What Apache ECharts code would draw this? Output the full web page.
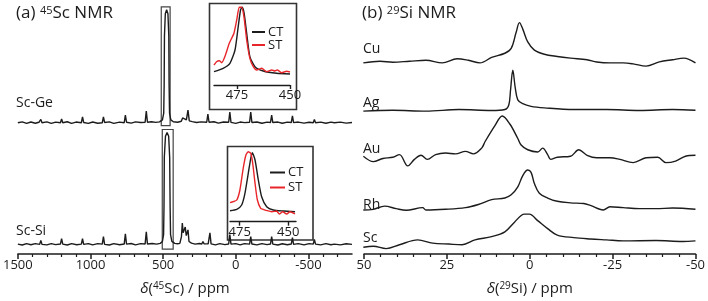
<!DOCTYPE html>
<html lang="en">
<head>
    <meta charset="UTF-8">
    <title>45Sc / 29Si NMR</title>
    <script src="https://cdn.jsdelivr.net/npm/echarts@6/dist/echarts.min.js"></script>
    <style>
        html, body { margin: 0; padding: 0; background: #fff; }
        #main { width: 708px; height: 301px; }
    </style>
</head>
<body>
    <div id="main"></div>
    <script>
        // ---- axis ticks ----
        var scTicks = [1500, 1000, 500, 0, -500];
        var scMinorTicks = [1400, 1300, 1200, 1100, 900, 800, 700, 600, 400, 300, 200, 100,
            -100, -200, -300, -400, -600, -700];
        var insetTicks = [475, 450];

        // ---- 45Sc spectra [ppm, intensity] ----
        var scGe = [[1500, 0], [1470, 0.9], [1440, -0.6], [1410, 0.8], [1380, -0.5], [1355, 0.5], [1350, 0], [1342, 3.5], [1334, 0],
            [1300, 0.9], [1270, -0.7], [1240, 0.6], [1207, 0], [1199, 4], [1191, 0], [1160, 1], [1130, -0.6], [1100, 0.7],
            [1063, 0], [1055, 6], [1047, 0.3], [1015, -0.7], [985, 0.8], [950, -0.5], [919, 0], [911, 6], [903, 0.3],
            [870, 0.9], [840, -0.6], [800, 0.7], [768, 0], [760, 8], [752, 0.5], [720, -0.4], [690, 0.9], [655, 0.2],
            [624, 0.5], [616, 12], [608, 0.5], [580, 1], [550, 0.4], [525, 0.9],
            [505, 3], [496, 10], [493, 40], [491, 90], [485, 113], [476, 117], [467, 113], [461, 90], [459, 40], [456, 10], [447, 3],
            [430, 1], [400, 0.5], [375, 1.5], [366, 5], [356, 3], [340, 3], [329, 13], [320, 2], [300, 1.2], [270, 0.3],
            [240, 0.9], [200, 0.5], [192, 9], [184, 0.5], [150, 1], [120, -0.4], [85, 0.8], [49, 0.5], [41, 11], [33, 0.4],
            [0, -0.6], [-30, 0.7], [-60, 0.1], [-95, 0.5], [-103, 11], [-111, 0.3], [-145, 0.8], [-180, -0.5], [-215, 0.6],
            [-239, 0.3], [-247, 8], [-255, 0.2], [-290, 0.7], [-320, -0.5], [-355, 0.6], [-382, 0.2], [-390, 7], [-398, 0.1],
            [-430, 0.7], [-470, -0.4], [-505, 0.5], [-533, 0], [-541, 3.5], [-549, 0], [-585, 0.6], [-620, -0.5], [-655, 0.6],
            [-679, 0], [-685, 1.5], [-691, 0], [-720, 0.6], [-760, -0.4], [-800, 0.2]];

        var scSi = [[1500, 0.3], [1470, -0.7], [1440, 0.8], [1410, -0.4], [1380, 0.7], [1350, 0], [1342, 4], [1334, 0],
            [1300, -0.6], [1270, 0.8], [1240, -0.3], [1207, 0.3], [1199, 6], [1191, 0.2], [1160, -0.7], [1130, 0.7],
            [1095, -0.4], [1063, 0.2], [1055, 6], [1047, 0], [1015, 0.8], [985, -0.6], [950, 0.7], [919, 0.2], [911, 8],
            [903, 0], [870, -0.7], [840, 0.8], [800, -0.4], [768, 0.3], [760, 11], [752, 0.2], [720, 0.9], [690, -0.5],
            [655, 0.7], [624, 0.4], [616, 13], [608, 0.3], [575, 0.9], [545, 0.2], [520, 1],
            [505, 3], [497, 10], [494, 40], [492, 90], [484, 112], [473, 116], [462, 112], [455, 90], [452, 40], [449, 10], [440, 3],
            [420, 1], [400, 0.6], [385, 1], [374, 8], [368, 22], [362, 12], [355, 15], [348, 18], [341, 9], [335, 12],
            [329, 15], [322, 3], [305, 1.2], [280, 0.2], [250, 0.9], [234, 0.4], [226, 3], [218, 0.5], [190, 0.6], [178, 12],
            [170, 0.5], [140, -0.5], [110, 0.8], [75, -0.3], [49, 0.4], [41, 10], [33, 0.2], [0, 0.7], [-30, -0.6],
            [-60, 0.7], [-95, 0.2], [-103, 8], [-111, 0.3], [-145, -0.6], [-180, 0.8], [-215, -0.3], [-239, 0.3], [-247, 8],
            [-255, 0.2], [-290, -0.7], [-320, 0.6], [-355, -0.4], [-382, 0.3], [-390, 7], [-398, 0], [-430, 0.7],
            [-470, -0.5], [-505, 0.7], [-533, 0.2], [-541, 5], [-549, 0.2], [-585, -0.6], [-620, 0.7], [-655, -0.4],
            [-679, 0.2], [-685, 2], [-691, 0.3], [-720, -0.5], [-760, 0.6], [-800, 0]];

        // boxes drawn round the truncated central transition
        var geBox = [[513, 133], [452, 256]];
        var siBox = [[506, 5], [431, 129]];

        // ---- inset spectra (central transition region) ----
        var geCT = [[485.8, 13.3], [481.5, 16.7], [478.3, 21.7], [475.9, 35], [474.4, 58.3], [473.3, 75], [472.5, 77.7],
            [471.6, 71.7], [470.4, 51.7], [468.9, 28.3], [466.5, 18.3], [462.6, 14], [456.3, 11.7], [450, 11]];
        var geST = [[485.8, 20], [484.6, 23.3], [483.3, 24.3], [482.2, 22.3], [480.7, 28.3], [478.6, 41.7], [477.5, 46.7],
            [476.4, 51.7], [475.1, 65], [473.9, 77.7], [472.8, 77.7], [471.7, 68.3], [470.4, 45], [468.9, 26.7],
            [467.3, 18.3], [465.7, 15], [463.3, 16.7], [461, 13.3], [458.6, 15], [457.1, 14], [456, 15], [453.9, 12.3],
            [451.6, 13.7], [450, 13]];
        var siCT = [[480, 11], [476.5, 12.4], [474, 16.7], [472.3, 28.4], [470.6, 48.4], [469.3, 63.4], [468.5, 69],
            [467.1, 61.7], [465.4, 41.7], [463.7, 25], [461.1, 15], [457.7, 11.7], [452.5, 10.7], [446.5, 10]];
        var siST = [[480, 19], [478.3, 20], [476.5, 21.7], [474.9, 31.7], [473.2, 53.4], [471.8, 66.7], [470.6, 70],
            [469.3, 68.4], [468.3, 58.4], [467.1, 38.4], [465.9, 21.7], [464.2, 13.4], [462.9, 12.4], [460.8, 11],
            [458.5, 10], [456, 10.7], [454.6, 7.7], [452.9, 10], [450.8, 7.7], [449.1, 10], [446.5, 7.7]];

        // ---- 29Si spectra [ppm, intensity] ----
        var siNames = ['Cu', 'Ag', 'Au', 'Rh', 'Sc'];
        var siCu = [[50.2, -1], [45.2, 0.7], [41.3, -0.3], [36.3, 0.7], [31.3, 1.7], [26.4, -1], [21.9, 3.3], [18.5, 1.7],
            [15, -1], [11.5, 4.7], [7.5, 9], [5.6, 14], [4.1, 30.7], [3.1, 40.7], [2.1, 34], [0.6, 20.7], [-1.4, 12.3],
            [-4.4, 8], [-8.3, 5.7], [-12.3, 4], [-17.3, 2.3], [-20.2, 0], [-24.2, -1], [-28.2, -1], [-31.2, -2],
            [-35.1, -4.3], [-39.1, 0], [-43.1, 2.3], [-46.5, 4], [-50, -1]];
        var siAg = [[50.2, -1.7], [41.3, -0.7], [31.3, -1.7], [21.4, 0], [11.5, -1], [7.5, 0], [6.3, 5], [5.8, 20],
            [5.1, 40.7], [4.4, 23.3], [3.6, 10], [2.1, 6], [-0.4, 3.3], [-4.4, 1.7], [-13.3, 0], [-23.2, 0], [-33.1, -1],
            [-43.1, 0], [-50, -0.7]];
        var siAu = [[50.2, 0.3], [47.2, -5.3], [44.3, -2], [41.3, -0.7], [39.3, 2], [36.8, -9.7], [34.8, -3], [32.8, 1.3],
            [30.9, -3], [28.4, 2], [25.4, 3.7], [22.4, 2.7], [19.4, 5.3], [17, 2.7], [14.5, 8.7], [13.5, 15.3], [10.5, 32],
            [8.3, 42], [6, 33.7], [3.6, 18.7], [2.6, 12], [0.6, 7], [-2.4, 4.7], [-3.9, 8.7], [-5.4, 2], [-6.3, -3],
            [-8.3, -0.7], [-12.3, 0.3], [-14.8, 7], [-17.3, 1.3], [-20.2, -1.3], [-24.2, -1.3], [-27.2, -3], [-31.2, -6.3],
            [-35.1, -1.3], [-38.6, -0.7], [-41.1, -6.3], [-44, -4.7], [-47, 0.3], [-50, 1.3]];
        var siRh = [[50.2, -0.7], [47.2, 0], [43.8, 3.3], [40.3, 0.7], [37.3, -1], [32.3, 1.7], [31.3, -0.7], [25.4, 0],
            [19.4, 1.7], [15.5, 5], [11.5, 10], [7.5, 11.7], [5.6, 15], [3.6, 23.3], [2.1, 35], [0.6, 40.7], [-0.4, 38.3],
            [-1.4, 26.7], [-2.9, 16.7], [-5.4, 11.7], [-8.3, 8.3], [-12.3, 6.7], [-16.3, 6], [-18.3, 4], [-22.2, -0.7],
            [-24.2, 2.7], [-28.2, 1.7], [-33.1, 0.7], [-38.1, 0.7], [-43.1, 1.3], [-50, 0]];
        var siSc = [[50.2, 0.7], [47.2, 1.7], [43.3, -0.7], [39.3, 3.3], [33.8, 8.3], [29.3, 5], [24.4, 4], [20.4, 3.3],
            [16.5, 8.3], [11.5, 11.7], [7.5, 16.7], [4.6, 26.7], [1.6, 35], [0.1, 35], [-2.4, 28.3], [-5.4, 20],
            [-8.3, 13.3], [-13.3, 10.7], [-18.3, 9.3], [-23.2, 8.3], [-28.2, 7.3], [-38.1, 7.7], [-46.1, 6.7], [-50, 7.3]];

        // vertical stacking of the traces
        var scOffsets = { ge: 136, si: 10 };
        var siOffsets = [199, 149.7, 101, 46.3, 6.3];

        var ink = '#1c1c1c';
        var red = '#e8262a';
        var font = 'Open Sans';

        function shift(arr, dy) {
            return arr.map(function (p) { return [p[0], p[1] + dy]; });
        }

        function traceSeries(name, data, xi, yi, smooth, color) {
            return {
                name: name,
                type: 'line',
                xAxisIndex: xi,
                yAxisIndex: yi,
                data: data,
                symbol: 'none',
                smooth: smooth,
                silent: true,
                animation: false,
                itemStyle: { color: color || ink },
                lineStyle: { color: color || ink, width: 1.4 }
            };
        }

        function boxArea(b) {
            return {
                silent: true,
                itemStyle: { color: 'rgba(0,0,0,0)', borderColor: '#444', borderWidth: 1.2 },
                data: [[{ coord: b[0] }, { coord: b[1] }]]
            };
        }

        function plainNumber(v) { return String(v); }

        var mainAxisName = {
            fontFamily: font, fontSize: 15, color: ink,
            rich: {
                i: { fontFamily: font, fontSize: 15, fontStyle: 'italic', color: ink },
                t: { fontFamily: font, fontSize: 15, color: ink },
                sup: { fontFamily: font, fontSize: 10, color: ink, verticalAlign: 'top' }
            }
        };
        var titleStyle = {
            fontFamily: font, fontSize: 17, fontWeight: 'normal', color: ink,
            rich: {
                t: { fontFamily: font, fontSize: 17, color: ink },
                sup: { fontFamily: font, fontSize: 11, color: ink, verticalAlign: 'top' }
            }
        };
        var insetLegend = {
            data: ['CT', 'ST'], orient: 'vertical', padding: 0, selectedMode: false,
            itemStyle: { opacity: 0 },
            textStyle: { fontFamily: font, fontSize: 13, color: ink, padding: [0, 0, 0, -2] }
        };

        var myChart = echarts.init(document.getElementById('main'), null, { renderer: 'canvas' });

        var geSeries = traceSeries('Sc-Ge', shift(scGe, scOffsets.ge), 0, 0, false);
        geSeries.markArea = boxArea(geBox);
        var siSeries = traceSeries('Sc-Si', shift(scSi, scOffsets.si), 0, 0, false);
        siSeries.markArea = boxArea(siBox);

        var series = [
            geSeries,
            siSeries,
            traceSeries('CT', geCT, 3, 2, 0.2),
            traceSeries('ST', geST, 3, 2, 0.2, red),
            traceSeries('CT', siCT, 4, 3, 0.2),
            traceSeries('ST', siST, 4, 3, 0.2, red)
        ];
        [siCu, siAg, siAu, siRh, siSc].forEach(function (arr, k) {
            series.push(traceSeries(siNames[k], shift(arr, siOffsets[k]), 2, 1, 0.35));
        });

        var option = {
            backgroundColor: '#fff',
            animation: false,
            title: [
                { text: '{t|(a) }{sup|45}{t|Sc NMR}', left: 16, top: 5, padding: 0, textStyle: titleStyle },
                { text: '{t|(b) }{sup|29}{t|Si NMR}', left: 362, top: 5, padding: 0, textStyle: titleStyle }
            ],
            legend: [
                Object.assign({}, insetLegend, { left: 251, top: 25.5, itemWidth: 13, itemHeight: 13, itemGap: 0 }),
                Object.assign({}, insetLegend, { left: 269, top: 166, itemWidth: 15, itemHeight: 14, itemGap: 2 })
            ],
            grid: [
                { left: 14, right: 356, top: 5, bottom: 38 },
                { left: 364, right: 8, top: 5, bottom: 38 },
                { left: 214, width: 76, top: 5, height: 80 },
                { left: 230, width: 66, top: 148.7, height: 73 }
            ],
            xAxis: [
                {
                    gridIndex: 0, type: 'value', min: -800, max: 1500, inverse: true, position: 'bottom',
                    axisLine: { onZero: false, lineStyle: { color: ink, width: 1.5 } },
                    axisTick: { customValues: scTicks, length: 5, lineStyle: { color: ink, width: 1.5 } },
                    axisLabel: { customValues: scTicks, formatter: plainNumber, color: ink, fontFamily: font, fontSize: 13, margin: 5 },
                    splitLine: { show: false },
                    name: '{i|δ}{t|(}{sup|45}{t|Sc) / ppm}', nameLocation: 'middle', nameGap: 27,
                    nameTextStyle: mainAxisName
                },
                {
                    gridIndex: 0, type: 'value', min: -800, max: 1500, inverse: true, position: 'bottom',
                    axisLine: { show: false, onZero: false },
                    axisTick: { customValues: scMinorTicks, length: 3, lineStyle: { color: ink, width: 1.2 } },
                    axisLabel: { show: false },
                    splitLine: { show: false }
                },
                {
                    gridIndex: 1, type: 'value', min: -50, max: 50, interval: 25, inverse: true, position: 'bottom',
                    axisLine: { onZero: false, lineStyle: { color: ink, width: 1.5 } },
                    axisTick: { length: 5, lineStyle: { color: ink, width: 1.5 } },
                    minorTick: { show: true, splitNumber: 5, length: 3, lineStyle: { color: ink, width: 1.2 } },
                    axisLabel: { formatter: plainNumber, color: ink, fontFamily: font, fontSize: 13, margin: 5 },
                    splitLine: { show: false },
                    name: '{i|δ}{t|(}{sup|29}{t|Si) / ppm}', nameLocation: 'middle', nameGap: 27,
                    nameTextStyle: mainAxisName
                },
                {
                    gridIndex: 2, type: 'value', min: 450, max: 485.8, inverse: true, position: 'bottom',
                    axisLine: { onZero: false, lineStyle: { color: ink, width: 1.4 } },
                    axisTick: { customValues: insetTicks, length: 4, lineStyle: { color: ink, width: 1.4 } },
                    axisLabel: { customValues: insetTicks, formatter: plainNumber, color: ink, fontFamily: font, fontSize: 13, margin: 4 },
                    splitLine: { show: false }
                },
                {
                    gridIndex: 3, type: 'value', min: 446, max: 480, inverse: true, position: 'bottom',
                    axisLine: { onZero: false, lineStyle: { color: ink, width: 1.4 } },
                    axisTick: { customValues: insetTicks, length: 4, lineStyle: { color: ink, width: 1.4 } },
                    axisLabel: { customValues: insetTicks, formatter: plainNumber, color: ink, fontFamily: font, fontSize: 13, margin: 4 },
                    splitLine: { show: false }
                }
            ],
            yAxis: [
                { gridIndex: 0, type: 'value', min: 0, max: 258, show: false },
                { gridIndex: 1, type: 'value', min: 0, max: 258, show: false },
                { gridIndex: 2, type: 'value', min: 0, max: 80, show: false },
                { gridIndex: 3, type: 'value', min: 0, max: 73, show: false }
            ],
            graphic: [
                // inset frames
                { type: 'rect', silent: true, shape: { x: 209.5, y: 3.5, width: 87, height: 106 },
                  style: { fill: 'none', stroke: '#333', lineWidth: 1.6 } },
                { type: 'rect', silent: true, shape: { x: 227.5, y: 146.5, width: 85.5, height: 93.5 },
                  style: { fill: 'none', stroke: '#333', lineWidth: 1.6 } },
                // trace labels
                { type: 'text', silent: true, x: 16, y: 103, style: { text: 'Sc-Ge', font: '14px "Open Sans"', fill: ink, textVerticalAlign: 'middle' } },
                { type: 'text', silent: true, x: 16, y: 231, style: { text: 'Sc-Si', font: '14px "Open Sans"', fill: ink, textVerticalAlign: 'middle' } },
                { type: 'text', silent: true, x: 363, y: 49, style: { text: 'Cu', font: '14px "Open Sans"', fill: ink, textVerticalAlign: 'middle' } },
                { type: 'text', silent: true, x: 363, y: 103, style: { text: 'Ag', font: '14px "Open Sans"', fill: ink, textVerticalAlign: 'middle' } },
                { type: 'text', silent: true, x: 363, y: 149, style: { text: 'Au', font: '14px "Open Sans"', fill: ink, textVerticalAlign: 'middle' } },
                { type: 'text', silent: true, x: 363, y: 205, style: { text: 'Rh', font: '14px "Open Sans"', fill: ink, textVerticalAlign: 'middle' } },
                { type: 'text', silent: true, x: 363, y: 238, style: { text: 'Sc', font: '14px "Open Sans"', fill: ink, textVerticalAlign: 'middle' } }
            ],
            series: series
        };

        myChart.setOption(option);
    </script>
</body>
</html>
